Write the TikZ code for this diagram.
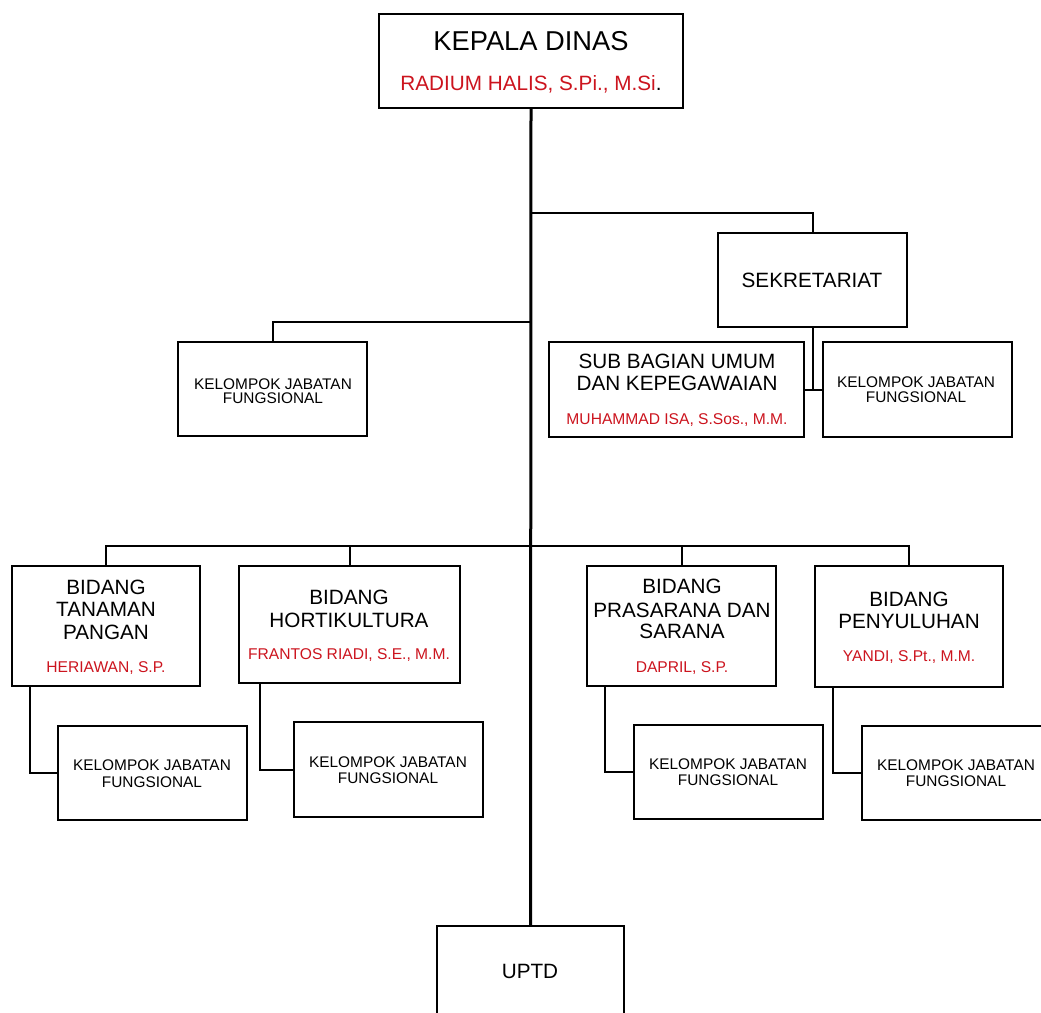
\documentclass[tikz,border=0pt]{standalone}
\usepackage{fontspec}
\setmainfont{Liberation Sans}
\definecolor{nred}{RGB}{204,20,30}
\begin{document}
\begin{tikzpicture}[x=1pt,y=-1pt,
  box/.style={draw=black, line width=2pt, inner sep=0pt, fill=white},
  conn/.style={draw=black, line width=2pt},
  mainln/.style={draw=black, line width=3pt},
  txt/.style={anchor=base, inner sep=0pt},
  big/.style={font=\fontsize{27.3}{30}\selectfont},
  mid/.style={font=\fontsize{20.7}{22.3}\selectfont},
  sm/.style={font=\fontsize{15.4}{16.5}\selectfont},
  nm/.style={font=\fontsize{15.6}{17}\selectfont, text=nred}]
\useasboundingbox (0,0) rectangle (1041,1012);
\clip (0,0) rectangle (1041,1012);
\fill[white] (0,0) rectangle (1041,1012);

% boxes
\node[box, minimum width=304, minimum height=94] (kd) at (531,61) {};
\node[box, minimum width=189, minimum height=94] (sek) at (812.5,280) {};
\node[box, minimum width=255, minimum height=95] (sub) at (676.5,389.5) {};
\node[box, minimum width=189, minimum height=95] (kjfS) at (917.5,389.5) {};
\node[box, minimum width=189, minimum height=94] (kjfL) at (272.5,389) {};
\node[box, minimum width=188, minimum height=120] (b1) at (106,626) {};
\node[box, minimum width=221, minimum height=117] (b2) at (349.5,624.5) {};
\node[box, minimum width=189, minimum height=120] (b3) at (681.5,626) {};
\node[box, minimum width=188, minimum height=121] (b4) at (909,626.5) {};
\node[box, minimum width=189, minimum height=94] (k1) at (152.5,773) {};
\node[box, minimum width=189, minimum height=95] (k2) at (388.5,769.5) {};
\node[box, minimum width=189, minimum height=94] (k3) at (728.5,772) {};
\node[box, minimum width=189, minimum height=94] (k4) at (956.5,773) {};
\node[box, minimum width=187, minimum height=94] (uptd) at (530.5,973) {};

% connectors
\coordinate (j1) at (531,213);
\coordinate (j2) at (531,322);
\coordinate (j3) at (531,546);
\draw[conn] (j1) -| (sek.north);
\draw[conn] (j2) -| (kjfL.north);
\draw[conn] (sek.south) -- (sek.south |- sub.east);
\draw[conn] (sub.east) -- (kjfS.west);
\draw[conn] (b1.north) |- (b4.north |- j3) -- (b4.north);
\draw[conn] (b2.north) -- (b2.north |- j3);
\draw[conn] (b3.north) -- (b3.north |- j3);
\draw[conn] ([xshift=19pt]b1.south west) |- (k1.west);
\draw[conn] ([xshift=22pt]b2.south west) |- (k2.west);
\draw[conn] ([xshift=19pt]b3.south west) |- (k3.west);
\draw[conn] ([xshift=19pt]b4.south west) |- (k4.west);
\draw[mainln] (kd.south) -- (uptd.north);

% texts
\node[txt, big] (tkd) at (531,50) {KEPALA DINAS};
\node[txt, mid] (nkd) at (531,90) {\textcolor{nred}{RADIUM HALIS, S.Pi., M.Si}.};
\node[txt, mid] (tsek) at (812,287) {SEKRETARIAT};
\node[txt, mid] (tsub1) at (677,368) {SUB BAGIAN UMUM};
\node[txt, mid] (tsub2) at (677,390) {DAN KEPEGAWAIAN};
\node[txt, nm] (nsub) at (677,424) {MUHAMMAD ISA, S.Sos., M.M.};
\node[txt, sm] (tkS1) at (916,387) {KELOMPOK JABATAN};
\node[txt, sm] (tkS2) at (916,402) {FUNGSIONAL};
\node[txt, sm] (tkL1) at (273,389) {KELOMPOK JABATAN};
\node[txt, sm] (tkL2) at (273,403) {FUNGSIONAL};

\node[txt, mid] (tb11) at (106,594) {BIDANG};
\node[txt, mid] (tb12) at (106,616) {TANAMAN};
\node[txt, mid] (tb13) at (106,639) {PANGAN};
\node[txt, nm] (nb1) at (106,672) {HERIAWAN, S.P.};

\node[txt, mid] (tb21) at (349,604) {BIDANG};
\node[txt, mid] (tb22) at (349,627) {HORTIKULTURA};
\node[txt, nm] (nb2) at (349,659) {FRANTOS RIADI, S.E., M.M.};

\node[txt, mid] (tb31) at (682,593) {BIDANG};
\node[txt, mid] (tb32) at (682,617) {PRASARANA DAN};
\node[txt, mid] (tb33) at (682,638) {SARANA};
\node[txt, nm] (nb3) at (682,672) {DAPRIL, S.P.};

\node[txt, mid] (tb41) at (909,606) {BIDANG};
\node[txt, mid] (tb42) at (909,628) {PENYULUHAN};
\node[txt, nm] (nb4) at (909,661) {YANDI, S.Pt., M.M.};

\node[txt, sm] (tk11) at (152,770) {KELOMPOK JABATAN};
\node[txt, sm] (tk12) at (152,787) {FUNGSIONAL};
\node[txt, sm] (tk21) at (388,767) {KELOMPOK JABATAN};
\node[txt, sm] (tk22) at (388,783) {FUNGSIONAL};
\node[txt, sm] (tk31) at (728,769) {KELOMPOK JABATAN};
\node[txt, sm] (tk32) at (728,785) {FUNGSIONAL};
\node[txt, sm] (tk41) at (956,770) {KELOMPOK JABATAN};
\node[txt, sm] (tk42) at (956,786) {FUNGSIONAL};

\node[txt, mid] (tup) at (530,978) {UPTD};
\end{tikzpicture}
\end{document}
